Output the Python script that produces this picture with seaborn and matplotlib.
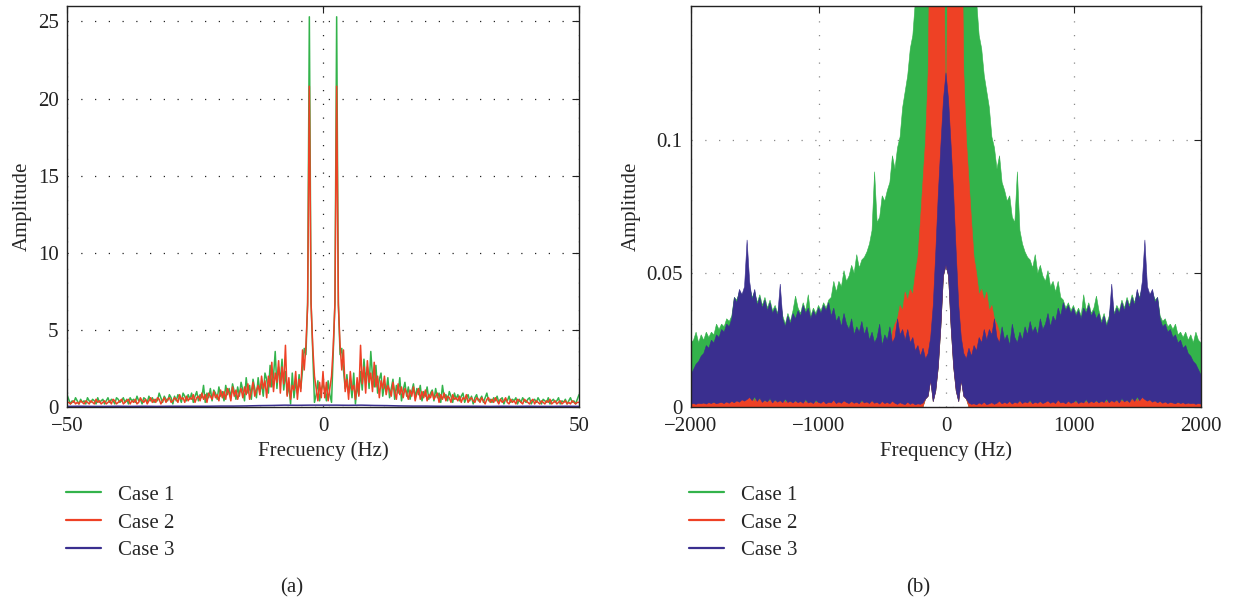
import numpy as np
import pandas as pd
import matplotlib
matplotlib.use("Agg")
import matplotlib.pyplot as plt
from matplotlib.lines import Line2D
import seaborn as sns

# ---------------------------------------------------------------------------
# Panel (a): one-sided amplitude spectra, 0..50 Hz at 1/3 Hz resolution
# ---------------------------------------------------------------------------
freq_a = np.arange(151) / 3.0

case1_a = [
    1.5, 1.1, 0.4, 1.7, 0.8, 0.3, 3.5, 6.8, 25.3, 6.8,
    3.4, 3.8, 2.4, 1.2, 2.1, 0.9, 1.6, 0.6, 2.2, 0.2,
    1.4, 0.8, 2.3, 1.1, 3.1, 1.7, 2.6, 1.2, 3.6, 2.0,
    1.3, 2.7, 0.9, 1.8, 2.2, 0.7, 1.5, 1.0, 1.9, 0.6,
    1.2, 1.8, 0.5, 1.4, 0.9, 1.9, 0.4, 1.1, 1.6, 0.7,
    1.3, 0.5, 1.0, 1.5, 0.6, 1.2, 0.8, 1.4, 0.4, 1.0,
    0.7, 1.3, 0.5, 0.9, 1.1, 0.4, 1.2, 0.6, 0.9, 0.3,
    1.4, 0.6, 0.8, 0.4, 1.0, 0.7, 0.3, 0.9, 0.5, 0.8,
    0.4, 0.7, 0.9, 0.3, 0.6, 0.8, 0.4, 0.7, 0.2, 0.6,
    0.8, 0.4, 0.5, 0.7, 0.3, 0.6, 0.9, 0.4, 0.5, 0.3,
    0.6, 0.4, 0.7, 0.3, 0.5, 0.6, 0.2, 0.5, 0.4, 0.7,
    0.3, 0.5, 0.4, 0.6, 0.2, 0.5, 0.3, 0.6, 0.4, 0.3,
    0.5, 0.6, 0.2, 0.4, 0.5, 0.3, 0.6, 0.4, 0.2, 0.5,
    0.4, 0.3, 0.6, 0.2, 0.4, 0.5, 0.3, 0.4, 0.6, 0.2,
    0.4, 0.3, 0.5, 0.2, 0.4, 0.6, 0.3, 0.4, 0.2, 0.5,
    0.8,
]

case2_a = [
    2.3, 0.6, 1.6, 0.4, 1.2, 2.0, 3.9, 6.7, 20.8, 6.6,
    4.0, 2.4, 3.7, 1.0, 1.8, 0.5, 2.3, 1.1, 1.4, 0.5,
    1.9, 0.7, 4.0, 1.5, 2.6, 0.9, 3.0, 1.6, 2.2, 1.0,
    2.9, 1.3, 2.0, 0.6, 1.7, 1.2, 2.0, 0.8, 1.4, 1.1,
    0.7, 1.6, 1.0, 0.5, 1.5, 0.8, 1.3, 0.6, 1.2, 0.9,
    0.5, 1.1, 0.7, 1.3, 0.4, 0.9, 1.2, 0.5, 1.0, 0.6,
    1.1, 0.4, 0.8, 0.6, 1.0, 0.5, 0.7, 0.9, 0.3, 0.8,
    0.5, 0.9, 0.4, 0.7, 0.6, 0.3, 0.8, 0.5, 0.6, 0.4,
    0.7, 0.3, 0.6, 0.5, 0.8, 0.3, 0.5, 0.6, 0.4, 0.3,
    0.6, 0.5, 0.3, 0.6, 0.4, 0.2, 0.5, 0.6, 0.3, 0.5,
    0.3, 0.6, 0.4, 0.2, 0.5, 0.3, 0.4, 0.6, 0.3, 0.2,
    0.5, 0.3, 0.4, 0.2, 0.5, 0.4, 0.3, 0.2, 0.5, 0.4,
    0.3, 0.2, 0.4, 0.5, 0.2, 0.4, 0.3, 0.2, 0.4, 0.3,
    0.2, 0.4, 0.3, 0.5, 0.2, 0.3, 0.4, 0.2, 0.3, 0.4,
    0.2, 0.3, 0.4, 0.2, 0.3, 0.2, 0.4, 0.3, 0.2, 0.3,
    0.3,
]

freq_a_case3 = [0, 2.5, 5, 7.5, 10, 12.5, 15, 17.5, 20, 22.5, 25,
                27.5, 30, 32.5, 35, 37.5, 40, 42.5, 45, 47.5, 50]
case3_a = [0.12, 0.12, 0.11, 0.12, 0.10, 0.09, 0.07, 0.06, 0.06, 0.05, 0.05,
           0.05, 0.05, 0.04, 0.05, 0.04, 0.05, 0.04, 0.04, 0.05, 0.04]

# ---------------------------------------------------------------------------
# Panel (b): dense spectra up to 2 kHz, given as upper / lower envelopes
# ---------------------------------------------------------------------------
freq_b = np.arange(0, 2001, 20)

case1_b_upper = [
    0.20, 0.20, 0.20, 0.20, 0.20, 0.20, 0.20, 0.20, 0.20, 0.20,
    0.20, 0.20, 0.152, 0.139, 0.134, 0.124, 0.118, 0.112, 0.101, 0.097,
    0.089, 0.094, 0.084, 0.081, 0.077, 0.079, 0.071, 0.069, 0.088, 0.066,
    0.061, 0.058, 0.056, 0.055, 0.052, 0.057, 0.050, 0.053, 0.049, 0.047,
    0.051, 0.045, 0.047, 0.043, 0.047, 0.041, 0.040, 0.037, 0.039, 0.036,
    0.038, 0.035, 0.037, 0.034, 0.042, 0.036, 0.039, 0.035, 0.037, 0.0415,
    0.036, 0.032, 0.035, 0.031, 0.034, 0.040, 0.035, 0.038, 0.036, 0.040,
    0.037, 0.041, 0.038, 0.042, 0.039, 0.043, 0.041, 0.045, 0.044, 0.043,
    0.042, 0.043, 0.040, 0.041, 0.034, 0.032, 0.033, 0.030, 0.031, 0.029,
    0.031, 0.027, 0.028, 0.026, 0.028, 0.025, 0.027, 0.024, 0.028, 0.025,
    0.024,
]

case2_b_upper = [
    0.095, 0.20, 0.20, 0.20, 0.20, 0.20, 0.20, 0.125, 0.100, 0.085,
    0.070, 0.056, 0.050, 0.042, 0.044, 0.040, 0.043, 0.036, 0.038, 0.033,
    0.031, 0.028, 0.012, 0.005, 0.0038, 0.0018, 0.0032, 0.0015, 0.0027, 0.0017,
    0.0042, 0.0018, 0.0030, 0.0014, 0.0026, 0.0017, 0.0036, 0.0015, 0.0022, 0.0017,
    0.0031, 0.0014, 0.0027, 0.0017, 0.0034, 0.0016, 0.0023, 0.0015, 0.0029, 0.0017,
    0.0025, 0.0013, 0.0032, 0.0017, 0.0024, 0.0015, 0.0037, 0.0018, 0.0027, 0.0016,
    0.0034, 0.0017, 0.0026, 0.0015, 0.0039, 0.0019, 0.0031, 0.0017, 0.0036, 0.0020,
    0.0028, 0.0017, 0.0041, 0.0022, 0.0044, 0.0019, 0.0037, 0.0045, 0.0042, 0.0021,
    0.0032, 0.0017, 0.0026, 0.0015, 0.0023, 0.0018, 0.0027, 0.0014, 0.0020, 0.0016,
    0.0024, 0.0013, 0.0021, 0.0015, 0.0019, 0.0012, 0.0018, 0.0014, 0.0017, 0.0012,
    0.0015,
]

case3_b_upper = [
    0.125, 0.115, 0.098, 0.080, 0.058, 0.038, 0.026, 0.020, 0.018, 0.022,
    0.019, 0.023, 0.021, 0.026, 0.024, 0.029, 0.025, 0.029, 0.027, 0.033,
    0.026, 0.024, 0.030, 0.025, 0.027, 0.023, 0.031, 0.026, 0.024, 0.028,
    0.025, 0.030, 0.027, 0.032, 0.028, 0.030, 0.027, 0.033, 0.029, 0.031,
    0.035, 0.030, 0.034, 0.032, 0.037, 0.034, 0.039, 0.036, 0.038, 0.035,
    0.037, 0.034, 0.036, 0.033, 0.037, 0.035, 0.038, 0.034, 0.036, 0.033,
    0.035, 0.031, 0.034, 0.030, 0.033, 0.046, 0.034, 0.037, 0.035, 0.039,
    0.036, 0.040, 0.037, 0.041, 0.038, 0.044, 0.040, 0.047, 0.0625, 0.045,
    0.042, 0.044, 0.039, 0.041, 0.033, 0.030, 0.031, 0.028, 0.029, 0.026,
    0.027, 0.024, 0.025, 0.022, 0.023, 0.020, 0.019, 0.017, 0.016, 0.014,
    0.012,
]

case3_b_lower = [
    0.053, 0.049, 0.030, 0.015, 0.006, 0.002, 0.010, 0.004, 0.003, 0.0015,
    0.0010, 0.0012, 0.0008, 0.0015, 0.0010, 0.0018, 0.0009, 0.0012, 0.0016, 0.0010,
    0.0014, 0.0022, 0.0012, 0.0017, 0.0013, 0.0021, 0.0011, 0.0018, 0.0014, 0.0024,
    0.0013, 0.0019, 0.0015, 0.0025, 0.0012, 0.0018, 0.0014, 0.0021, 0.0013, 0.0017,
    0.0023, 0.0014, 0.0019, 0.0013, 0.0026, 0.0015, 0.0018, 0.0012, 0.0022, 0.0014,
    0.0017, 0.0025, 0.0013, 0.0019, 0.0015, 0.0028, 0.0014, 0.0021, 0.0016, 0.0024,
    0.0015, 0.0022, 0.0017, 0.0030, 0.0016, 0.0024, 0.0018, 0.0027, 0.0015, 0.0032,
    0.0019, 0.0026, 0.0017, 0.0034, 0.0021, 0.0038, 0.0024, 0.0036, 0.0028, 0.0022,
    0.0027, 0.0018, 0.0023, 0.0016, 0.0021, 0.0014, 0.0019, 0.0013, 0.0017, 0.0015,
    0.0012, 0.0018, 0.0013, 0.0016, 0.0011, 0.0015, 0.0012, 0.0014, 0.0010, 0.0013,
    0.0011,
]

# lower edges of cases 1 and 2 only matter around the central gap
freq_b_floor = [0, 20, 40, 60, 80, 100, 120, 140, 160, 180, 200, 2000]
case1_b_lower = [0.053, 0.049, 0.030, 0.015, 0.006, 0.002, 0.010, 0.004, 0.003, 0.0, 0.0, 0.0]
case2_b_lower = [0.053, 0.049, 0.030, 0.015, 0.006, 0.002, 0.010, 0.004, 0.003, 0.0, 0.0, 0.0]

labels = ["Case 1", "Case 2", "Case 3"]
colors = {"Case 1": "#33b34b", "Case 2": "#ee4125", "Case 3": "#3a2f8f"}


def two_sided(freq, amp):
    """Mirror a one-sided magnitude spectrum onto negative frequencies."""
    freq = np.asarray(freq, dtype=float)
    amp = np.asarray(amp, dtype=float)
    return (np.concatenate([-freq[::-1], freq[1:]]),
            np.concatenate([amp[::-1], amp[1:]]))


# ---------------------------------------------------------------------------
# Styling
# ---------------------------------------------------------------------------
sns.set_theme(style="white")
plt.rcParams["font.family"] = ["Liberation Serif", "DejaVu Serif"]
FS = 15

fig = plt.figure(figsize=(12.34, 6.05), dpi=100)
ax_a = fig.add_axes([67 / 1234, 198 / 605, 512 / 1234, 401 / 605])
ax_b = fig.add_axes([691 / 1234, 198 / 605, 510 / 1234, 401 / 605])

# ---------------------------------------------------------------------------
# Panel (a)
# ---------------------------------------------------------------------------
frames = []
for name, f, a in [("Case 1", freq_a, case1_a),
                   ("Case 2", freq_a, case2_a),
                   ("Case 3", freq_a_case3, case3_a)]:
    x, y = two_sided(f, a)
    frames.append(pd.DataFrame({"freq": x, "amp": y, "case": name}))
spec_a = pd.concat(frames, ignore_index=True)

sns.lineplot(data=spec_a, x="freq", y="amp", hue="case", hue_order=labels,
             palette=colors, estimator=None, sort=False, legend=False,
             linewidth=1.1, ax=ax_a)
ax_a.set_xlim(-50, 50)
ax_a.set_ylim(0, 26)
ax_a.set_xticks([-50, 0, 50])
ax_a.set_yticks([0, 5, 10, 15, 20, 25])
ax_a.set_xlabel("Frecuency (Hz)", fontsize=FS)
ax_a.set_ylabel("Amplitude", fontsize=FS)
ax_a.grid(True, linestyle=(0, (1, 10)), color="#222222", linewidth=0.9)

# ---------------------------------------------------------------------------
# Panel (b): each dense spectrum is the band between its envelopes
# ---------------------------------------------------------------------------
for name, up, f_lo, lo in [("Case 1", case1_b_upper, freq_b_floor, case1_b_lower),
                           ("Case 2", case2_b_upper, freq_b_floor, case2_b_lower),
                           ("Case 3", case3_b_upper, freq_b, case3_b_lower)]:
    xu, yu = two_sided(freq_b, up)
    xl, yl = two_sided(f_lo, lo)
    ax_b.fill(np.concatenate([xu, xl[::-1]]), np.concatenate([yu, yl[::-1]]),
              color=colors[name], linewidth=0.4, edgecolor=colors[name])
ax_b.set_xlim(-2000, 2000)
ax_b.set_ylim(0, 0.15)
ax_b.set_xticks([-2000, -1000, 0, 1000, 2000])
ax_b.set_yticks([0, 0.05, 0.1])
ax_b.set_yticklabels(["0", "0.05", "0.1"])
ax_b.set_xlabel("Frequency (Hz)", fontsize=FS)
ax_b.set_ylabel("Amplitude", fontsize=FS)
ax_b.grid(True, linestyle=(0, (1, 10)), color="#8a8a8a", linewidth=0.9)

for ax in (ax_a, ax_b):
    ax.set_axisbelow(True)
    ax.tick_params(direction="in", length=5, width=0.8, top=True, right=True,
                   labelsize=FS, colors="#222222")
    ax.tick_params(axis="y", pad=6)
    ax.tick_params(axis="x", pad=7)
    for sp in ax.spines.values():
        sp.set_color("#222222")
        sp.set_linewidth(1.0)

# ---------------------------------------------------------------------------
# Legends and captions
# ---------------------------------------------------------------------------
handles = [Line2D([], [], color=colors[n], linewidth=1.6) for n in labels]
for x0 in (66 / 1234, 689 / 1234):
    fig.legend(handles, labels, loc="upper left", bbox_to_anchor=(x0, 1 - 485 / 605),
               frameon=False, fontsize=FS, handlelength=1.7, handletextpad=0.8,
               labelspacing=0.4, borderpad=0, borderaxespad=0)

fig.text(292 / 1234, 1 - 588 / 605, "(a)", ha="center", va="center", fontsize=FS)
fig.text(918 / 1234, 1 - 588 / 605, "(b)", ha="center", va="center", fontsize=FS)

fig.savefig("out.png", dpi=100)
